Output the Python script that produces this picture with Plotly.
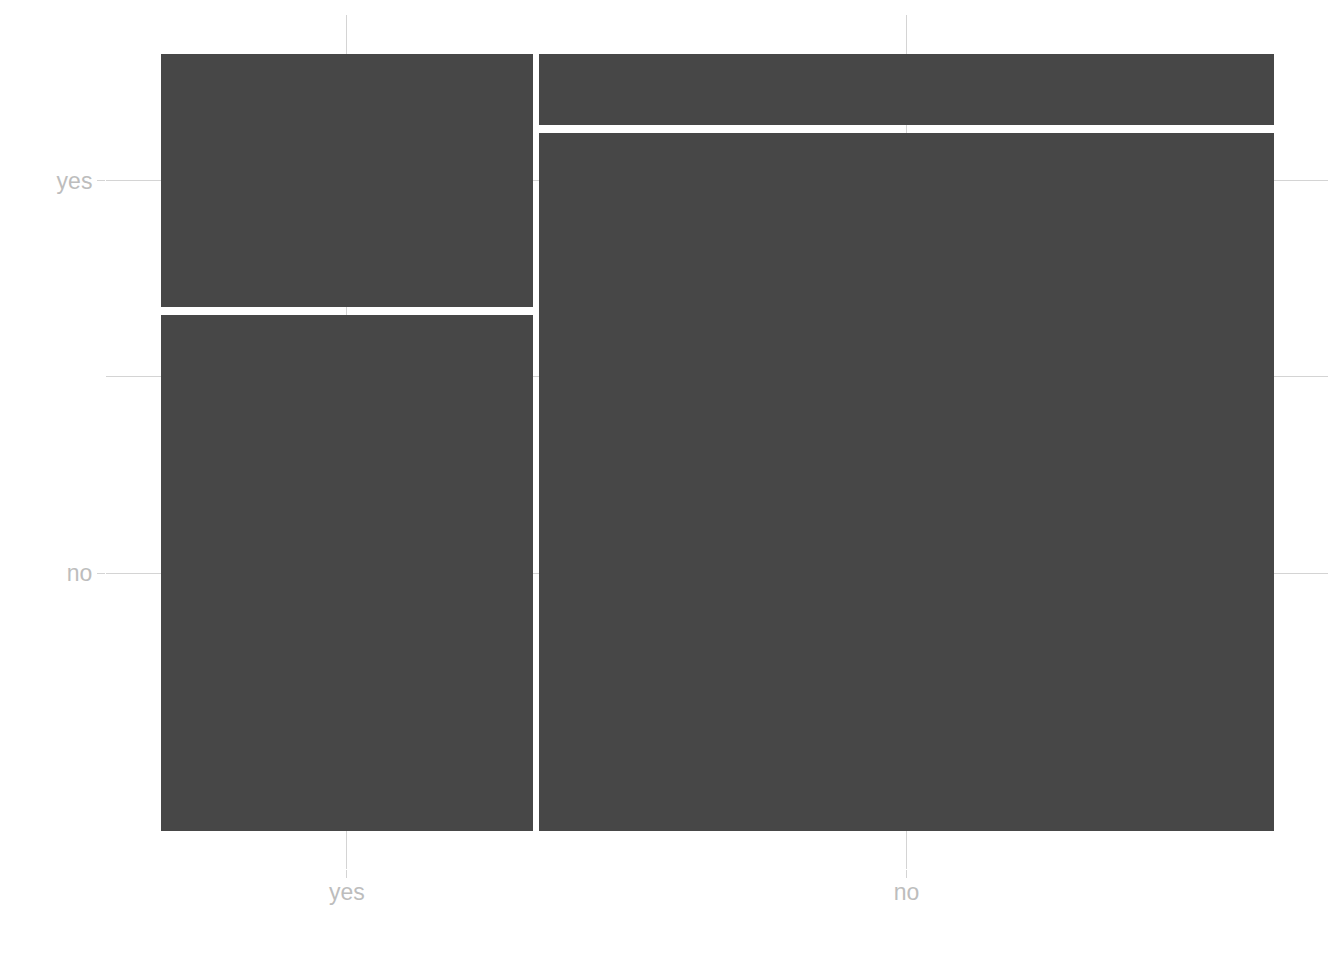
import plotly.graph_objects as go

# Mosaic data: counts of (x category, y category)
x_cats = ["yes", "no"]
y_cats = ["no", "yes"]          # stacked from bottom
counts = {
    "yes": [228, 112],          # [no, yes] within x = yes
    "no": [610, 62],            # [no, yes] within x = no
}

GAP_X = 0.0054
GAP_Y = 0.0103
FILL = "#474747"
GRID = "#d4d4d4"
TXT = "#bdbdbd"

col_totals = [sum(counts[c]) for c in x_cats]
grand = sum(col_totals)

fig = go.Figure()
x_left = 0.0
x_centers = []
y_centers_first = []
for i, c in enumerate(x_cats):
    w = col_totals[i] / grand * (1 - GAP_X * (len(x_cats) - 1))
    xc = x_left + w / 2
    x_centers.append(xc)
    base = 0.0
    for j, yv in enumerate(counts[c]):
        h = yv / col_totals[i] * (1 - GAP_Y * (len(y_cats) - 1))
        fig.add_trace(go.Bar(
            x=[xc], y=[h], base=[base], width=[w],
            marker=dict(color=FILL, line=dict(width=0)),
            showlegend=False, hoverinfo="skip",
        ))
        if i == 0:
            y_centers_first.append(base + h / 2)
        base += h + GAP_Y
    x_left += w + GAP_X

y_minor = [(y_centers_first[0] + y_centers_first[1]) / 2]

fig.update_layout(
    width=1344, height=960,
    margin=dict(l=106, r=16, t=15, b=91),
    paper_bgcolor="white", plot_bgcolor="white",
    barmode="overlay", bargap=0,
    font=dict(family="Liberation Sans, Arial, sans-serif", size=23, color=TXT),
)
fig.update_xaxes(
    type="linear", range=[-0.0494, 1.0485],
    tickmode="array", tickvals=x_centers, ticktext=x_cats,
    showgrid=True, gridcolor=GRID, gridwidth=1,
    ticks="outside", ticklen=8, tickcolor=GRID, tickwidth=1,
    ticklabelstandoff=-6,
    zeroline=False, showline=False,
)
fig.update_yaxes(
    type="linear", range=[-0.0489, 1.0502],
    tickmode="array", tickvals=y_centers_first, ticktext=y_cats,
    showgrid=True, gridcolor=GRID, gridwidth=1,
    ticks="outside", ticklen=8, tickcolor=GRID, tickwidth=1,
    minor=dict(tickmode="array", tickvals=y_minor, showgrid=True,
               gridcolor=GRID, gridwidth=1, ticks=""),
    zeroline=False, showline=False,
)

fig.write_html("out.html")
